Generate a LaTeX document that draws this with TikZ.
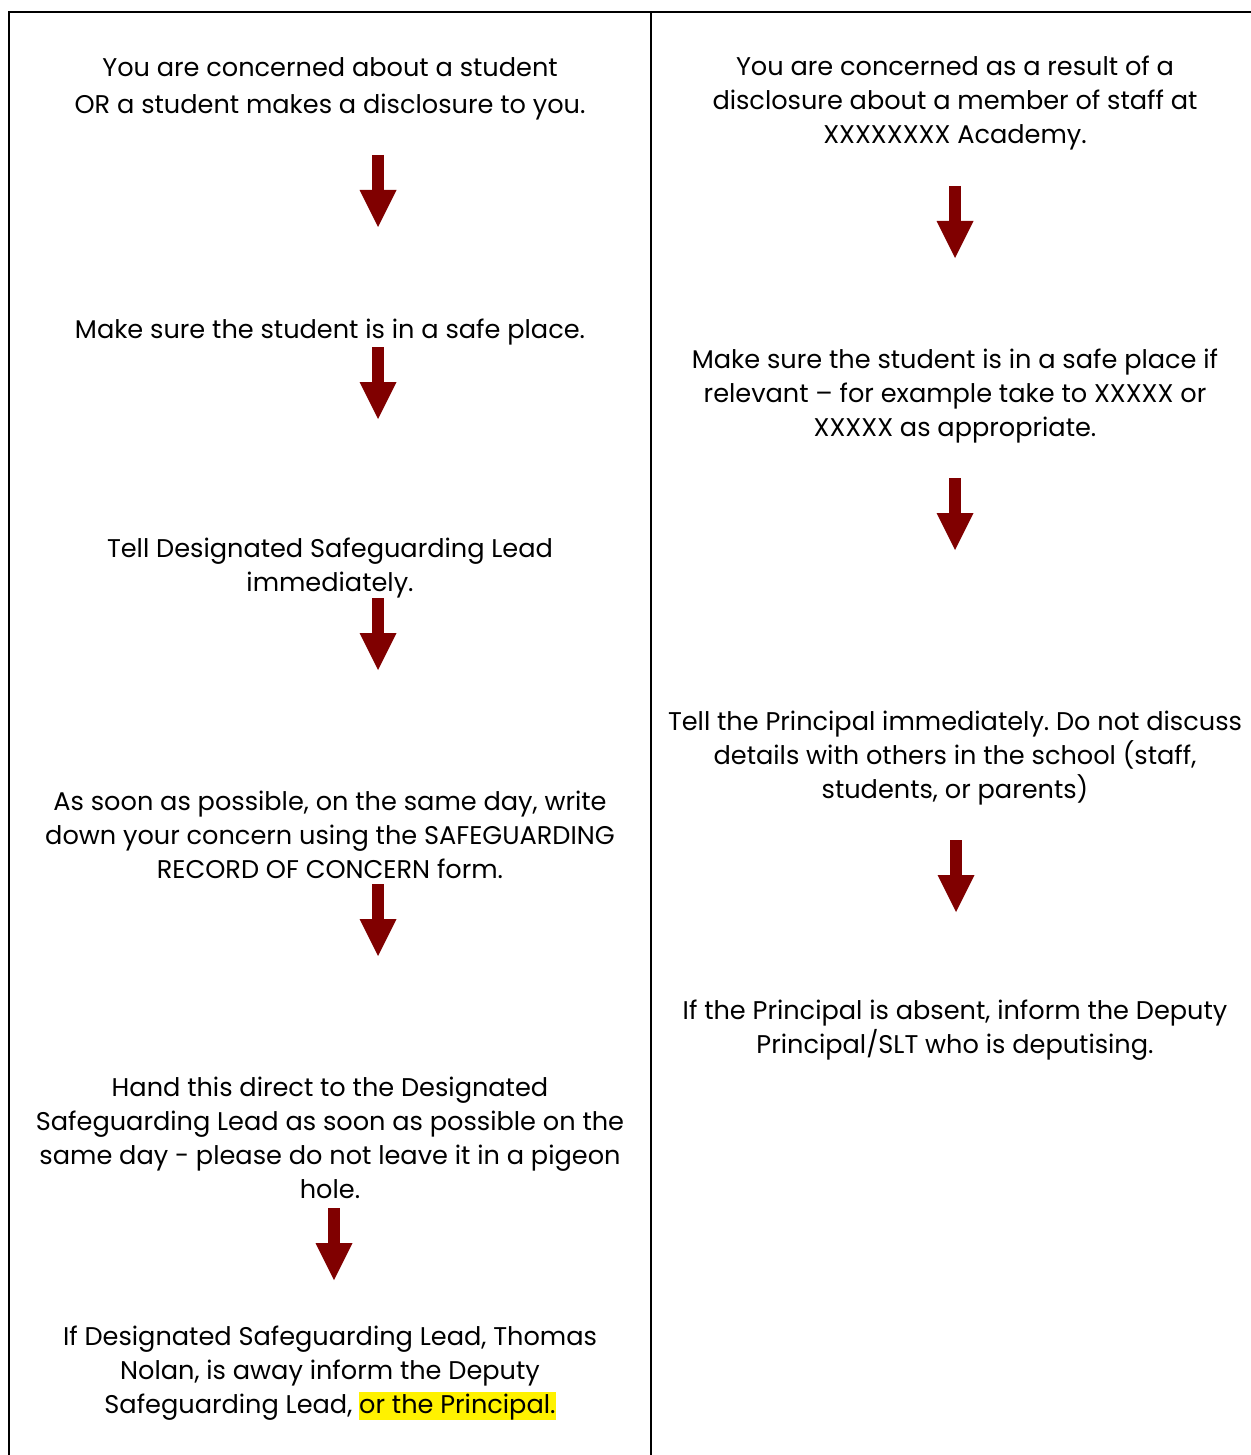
\documentclass[tikz,border=0pt]{standalone}
\usepackage{fontspec}
\setmainfont{Poppins}
\usepackage{xcolor}
\usetikzlibrary{arrows.meta}
\definecolor{arrowred}{HTML}{800000}
\newcommand{\hlmark}[1]{{\setlength{\fboxsep}{0pt}\colorbox{yellow}{\rule[-3.5pt]{0pt}{14pt}#1}}}
\frenchspacing

\begin{document}
\begin{tikzpicture}[
  x=0.5pt, y=-0.5pt,
  every node/.style={font=\fontsize{12.8}{17}\selectfont},
  entry/.style={anchor=base, align=center, inner sep=0pt},
  downarrow/.style={draw=arrowred, line width=6pt, line cap=butt,
    -{Triangle[length=18.5pt, width=18.5pt, line width=0pt]}}
]
  \useasboundingbox (0,0) rectangle (1251,1455);
  % table rules
  \draw[line width=1pt] (9,1455) -- (9,12) -- (1251,12);
  \draw[line width=1pt] (651,12) -- (651,1455);

  % left column (anchored at the last line)
  \node[entry] (l1) at (330,114) {You are concerned about a student\\[1.5pt]
    OR a student makes a disclosure to you.};
  \node[entry] (l2) at (330,338) {Make sure the student is in a safe place.};
  \node[entry] (l3) at (330,591) {Tell Designated Safeguarding Lead\\
    immediately.};
  \node[entry] (l4) at (330,878) {As soon as possible, on the same day, write\\
    down your concern using the SAFEGUARDING\\
    RECORD OF CONCERN form.};
  \node[entry] (l5) at (330,1198) {Hand this direct to the Designated\\
    Safeguarding Lead as soon as possible on the\\
    same day - please do not leave it in a pigeon\\
    hole.};
  \node[entry] (l6) at (330,1413) {If Designated Safeguarding Lead, Thomas\\
    Nolan, is away inform the Deputy\\
    Safeguarding Lead, \hlmark{or the Principal.}};

  % right column
  \node[entry] (r1) at (955,144) {You are concerned as a result of a\\
    disclosure about a member of staff at\\
    XXXXXXXX Academy.};
  \node[entry] (r2) at (955,436) {Make sure the student is in a safe place if\\
    relevant -- for example take to XXXXX or\\
    XXXXX as appropriate.};
  \node[entry] (r3) at (955,798) {Tell the Principal immediately. Do not discuss\\
    details with others in the school (staff,\\
    students, or parents)};
  \node[entry] (r4) at (955,1053) {If the Principal is absent, inform the Deputy\\
    Principal/SLT who is deputising.};

  % arrows
  \foreach \n/\x/\y in {la1/378/155, la2/378/347, la3/378/598, la4/378/884,
      la5/334/1208, ra1/955/186, ra2/955/478, ra3/956/840} {
    \coordinate (\n s) at (\x,\y);
    \coordinate (\n e) at (\x,\y+72);
    \draw[downarrow] (\n s) -- (\n e);
  }
\end{tikzpicture}
\end{document}
